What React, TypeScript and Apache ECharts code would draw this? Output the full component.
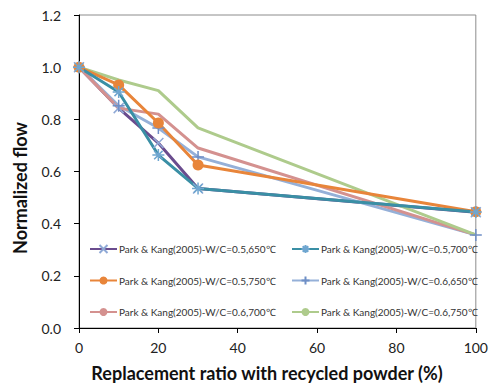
import React, { useEffect, useRef } from "react";
import * as echarts from "echarts";

const xValues = [0, 10, 20, 30, 100];
const seriesNames = [
  "Park & Kang(2005)-W/C=0.5,650℃",
  "Park & Kang(2005)-W/C=0.5,700℃",
  "Park & Kang(2005)-W/C=0.5,750℃",
  "Park & Kang(2005)-W/C=0.6,650℃",
  "Park & Kang(2005)-W/C=0.6,700℃",
  "Park & Kang(2005)-W/C=0.6,750℃",
];
const s1 = [1.0, 0.843, 0.709, 0.535, 0.444];
const s2 = [1.0, 0.905, 0.663, 0.535, 0.445];
const s3 = [1.0, 0.932, 0.786, 0.625, 0.446];
const s4 = [1.0, 0.852, 0.767, 0.656, 0.357];
const s5 = [1.0, 0.843, 0.82, 0.69, 0.357];
const s6 = [1.0, 0.951, 0.91, 0.767, 0.357];
const yTicks = [0, 0.2, 0.4, 0.6, 0.8, 1.0, 1.2];
const xTitle = "Replacement ratio with recycled powder (%)";
const yTitle = "Normalized flow";

const XMARK = "path://M0,0L10,10M10,0L0,10";
const STAR = "path://M5,0L5,10M0,5L10,5M1.5,1.5L8.5,8.5M8.5,1.5L1.5,8.5";
const PLUS = "path://M5,0L5,10M0,5L10,5";

export default function App() {
  const ref = useRef<HTMLDivElement>(null);
  useEffect(() => {
    document.body.style.margin = "0";
    const chart = echarts.init(ref.current!, undefined, { renderer: "svg" });
    const font = "Lato, 'Open Sans', sans-serif";
    const mk = (
      name: string,
      vals: number[],
      color: string,
      symbol: string,
      symbolSize: number,
      markerColor: string,
      isPath: boolean
    ) => ({
      name,
      type: "line",
      data: xValues.map((x, i) => [x, vals[i]]),
      lineStyle: { color, width: 3 },
      symbol,
      symbolSize,
      showSymbol: symbol !== "none",
      itemStyle: isPath
        ? { color: "rgba(0,0,0,0)", borderColor: markerColor, borderWidth: 1.5 }
        : { color: markerColor, borderWidth: 0 },
      color,
    });
    const series = [
      mk(seriesNames[0], s1, "#6a4c8e", XMARK, 10, "#8fa9d6", true),
      mk(seriesNames[3], s4, "#95b0d8", PLUS, 12, "#6f8fc6", true),
      mk(seriesNames[4], s5, "#d4918f", "none", 0, "#d4918f", false),
      mk(seriesNames[5], s6, "#aecb8c", "none", 0, "#aecb8c", false),
      mk(seriesNames[2], s3, "#e8853a", "circle", 11, "#e8853a", false),
      mk(seriesNames[1], s2, "#3a8fa5", STAR, 12, "#6fa6d0", true),
    ];
    const legendCommon = {
      orient: "vertical",
      itemWidth: 27,
      itemHeight: 10,
      itemGap: 21.5,
      textStyle: { fontFamily: font, fontSize: 10, color: "#333", padding: [0, 0, 0, -3] },
      padding: 0,
    };
    chart.setOption({
      animation: false,
      grid: {
        left: 79,
        top: 15,
        width: 397,
        height: 313,
        show: true,
        borderColor: "#8c8c8c",
        borderWidth: 1,
        backgroundColor: "transparent",
      },
      legend: [
        { ...legendCommon, left: 89, top: 244, data: [seriesNames[0], seriesNames[2], seriesNames[4]] },
        { ...legendCommon, left: 291, top: 244, data: [seriesNames[1], seriesNames[3], seriesNames[5]] },
      ],
      graphic: [
        {
          type: "text",
          x: 267,
          y: 373,
          style: {
            text: xTitle,
            fontFamily: font,
            fontSize: 18,
            fontWeight: "bold",
            fill: "#111",
            align: "center",
            verticalAlign: "middle",
          },
        },
        {
          type: "text",
          x: 20,
          y: 188,
          rotation: Math.PI / 2,
          style: {
            text: yTitle,
            fontFamily: font,
            fontSize: 18,
            fontWeight: "bold",
            fill: "#111",
            align: "center",
            verticalAlign: "middle",
          },
        },
      ],
      xAxis: {
        type: "value",
        min: 0,
        max: 100,
        interval: 20,
        axisLine: { lineStyle: { color: "#000", width: 1 } },
        axisTick: { show: true, length: 5, lineStyle: { color: "#000" } },
        splitLine: { show: false },
        axisLabel: { fontFamily: font, fontSize: 14, color: "#222", margin: 12 },
      },
      yAxis: {
        type: "value",
        min: 0,
        max: 1.2,
        interval: 0.2,
        axisLine: { show: true, lineStyle: { color: "#000", width: 1 } },
        axisTick: { show: true, length: 5, lineStyle: { color: "#000" } },
        splitLine: { show: false },
        axisLabel: {
          fontFamily: font,
          fontSize: 14,
          color: "#222",
          margin: 18,
          formatter: (v: number) => {
            const t = yTicks.find((k) => Math.abs(k - v) < 1e-6);
            return (t !== undefined ? t : v).toFixed(1);
          },
        },
      },
      series,
    });
    return () => chart.dispose();
  }, []);
  return <div ref={ref} style={{ width: 491, height: 385 }} />;
}
